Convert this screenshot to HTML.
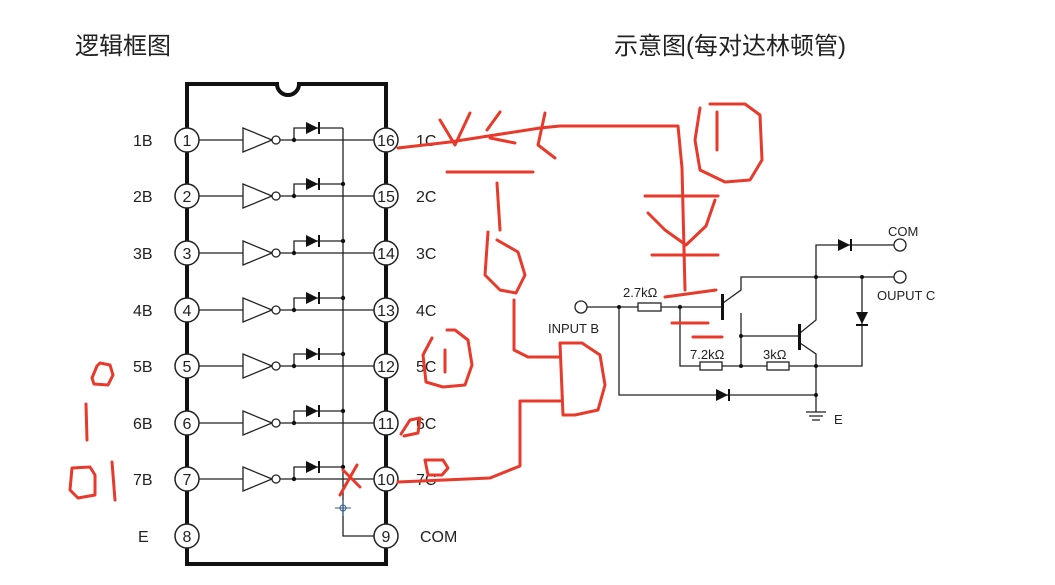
<!DOCTYPE html>
<html><head><meta charset="utf-8"><style>
html,body{margin:0;padding:0;background:#fff;}
svg{display:block;}
text{font-family:"Liberation Sans","Noto Sans CJK SC",sans-serif;fill:#222;}
</style></head><body>
<svg width="1055" height="585" viewBox="0 0 1055 585" xmlns="http://www.w3.org/2000/svg">
<text x="75" y="54" font-size="24">逻辑框图</text>
<text x="614" y="54" font-size="24">示意图(每对达林顿管)</text>
<!-- chip -->
<path d="M187 84 H277 A11 11 0 0 0 299 84 H386 V564 H187 Z" fill="none" stroke="#111" stroke-width="4"/>
<g id="rows" stroke="#222" stroke-width="1.3" fill="none">
</g>
<g stroke="#222" stroke-width="1.3" fill="none">
<!-- rows generated inline -->
<path d="M199 140H243M280 140H374M294 140V128H343M199 196H243M280 196H374M294 196V184H343M199 253H243M280 253H374M294 253V241H343M199 310H243M280 310H374M294 310V298H343M199 366H243M280 366H374M294 366V354H343M199 423H243M280 423H374M294 423V411H343M199 479H243M280 479H374M294 479V467H343"/>
<path d="M343 128V536H374"/>
<path d="M243 128L272 140L243 152ZM243 184L272 196L243 208ZM243 241L272 253L243 265ZM243 298L272 310L243 322ZM243 354L272 366L243 378ZM243 411L272 423L243 435ZM243 467L272 479L243 491Z"/>
</g>
<g fill="#fff" stroke="#222" stroke-width="1.3">
<circle cx="276" cy="140" r="4"/><circle cx="276" cy="196" r="4"/><circle cx="276" cy="253" r="4"/><circle cx="276" cy="310" r="4"/><circle cx="276" cy="366" r="4"/><circle cx="276" cy="423" r="4"/><circle cx="276" cy="479" r="4"/>
</g>
<g fill="#111">
<path d="M306 122L318 128L306 134ZM306 178L318 184L306 190ZM306 235L318 241L306 247ZM306 292L318 298L306 304ZM306 348L318 354L306 360ZM306 405L318 411L306 417ZM306 461L318 467L306 473Z"/>
<rect x="318" y="122" width="2" height="12"/><rect x="318" y="178" width="2" height="12"/><rect x="318" y="235" width="2" height="12"/><rect x="318" y="292" width="2" height="12"/><rect x="318" y="348" width="2" height="12"/><rect x="318" y="405" width="2" height="12"/><rect x="318" y="461" width="2" height="12"/>
<circle cx="294" cy="140" r="2.2"/><circle cx="294" cy="196" r="2.2"/><circle cx="294" cy="253" r="2.2"/><circle cx="294" cy="310" r="2.2"/><circle cx="294" cy="366" r="2.2"/><circle cx="294" cy="423" r="2.2"/><circle cx="294" cy="479" r="2.2"/>
<circle cx="343" cy="184" r="2.2"/><circle cx="343" cy="241" r="2.2"/><circle cx="343" cy="298" r="2.2"/><circle cx="343" cy="354" r="2.2"/><circle cx="343" cy="411" r="2.2"/><circle cx="343" cy="467" r="2.2"/>
</g>
<g stroke="#2a5a8a" stroke-width="1" fill="none"><circle cx="343" cy="508" r="3"/><path d="M335 508H351M343 500V516"/></g>
<g fill="#fff" stroke="#222" stroke-width="1.5">
<circle cx="187" cy="140" r="12"/><circle cx="187" cy="196" r="12"/><circle cx="187" cy="253" r="12"/><circle cx="187" cy="310" r="12"/><circle cx="187" cy="366" r="12"/><circle cx="187" cy="423" r="12"/><circle cx="187" cy="479" r="12"/><circle cx="187" cy="536" r="12"/>
<circle cx="386" cy="140" r="12"/><circle cx="386" cy="196" r="12"/><circle cx="386" cy="253" r="12"/><circle cx="386" cy="310" r="12"/><circle cx="386" cy="366" r="12"/><circle cx="386" cy="423" r="12"/><circle cx="386" cy="479" r="12"/><circle cx="386" cy="536" r="12"/>
</g>
<g font-size="16" text-anchor="middle">
<text x="187" y="146">1</text><text x="187" y="202">2</text><text x="187" y="259">3</text><text x="187" y="316">4</text><text x="187" y="372">5</text><text x="187" y="429">6</text><text x="187" y="485">7</text><text x="187" y="542">8</text>
<text x="386" y="146">16</text><text x="386" y="202">15</text><text x="386" y="259">14</text><text x="386" y="316">13</text><text x="386" y="372">12</text><text x="386" y="429">11</text><text x="386" y="485">10</text><text x="386" y="542">9</text>
</g>
<g font-size="16">
<text x="133" y="146">1B</text><text x="133" y="202">2B</text><text x="133" y="259">3B</text><text x="133" y="316">4B</text><text x="133" y="372">5B</text><text x="133" y="429">6B</text><text x="133" y="485">7B</text><text x="138" y="542">E</text>
<text x="416" y="146">1C</text><text x="416" y="202">2C</text><text x="416" y="259">3C</text><text x="416" y="316">4C</text><text x="416" y="372">5C</text><text x="416" y="429">6C</text><text x="416" y="485">7C</text><text x="420" y="542">COM</text>
</g>
<!-- right schematic -->
<g stroke="#222" stroke-width="1.3" fill="none">
<path d="M587 307H638M661 307H722M680 307V366H700M722 366H767M789 366H862V277"/>
<path d="M619 307V395H816"/>
<path d="M723 303L741 290V277H894M741 313L741 322V366M741 336H799M800 333L816 320V245H894M800 343L816 354V412"/>
<rect x="638" y="303" width="23" height="8"/><rect x="700" y="362" width="22" height="8"/><rect x="767" y="362" width="22" height="8"/>
<circle cx="581" cy="307" r="6"/><circle cx="900" cy="277" r="6"/><circle cx="900" cy="245" r="6"/>
<path d="M806 412H826M809 416H823M812 420H820"/>
</g>
<g fill="#111">
<rect x="721" y="294" width="3" height="26"/><rect x="798" y="324" width="3" height="26"/>
<path d="M838 239L850 245L838 251Z"/><rect x="850" y="239" width="2" height="12"/>
<path d="M856 312L868 312L862 324Z"/><rect x="856" y="324" width="12" height="2"/>
<path d="M716 389L728 395L716 401Z"/><rect x="728" y="389" width="2" height="12"/>
<circle cx="619" cy="307" r="2"/><circle cx="680" cy="307" r="2"/><circle cx="741" cy="336" r="2"/><circle cx="741" cy="366" r="2"/><circle cx="816" cy="366" r="2"/><circle cx="816" cy="395" r="2"/><circle cx="816" cy="277" r="2"/><circle cx="862" cy="277" r="2"/>
</g>
<g font-size="13">
<text x="623" y="297">2.7kΩ</text><text x="690" y="359">7.2kΩ</text><text x="763" y="359">3kΩ</text>
<text x="888" y="236">COM</text><text x="877" y="300">OUPUT C</text><text x="548" y="333">INPUT B</text><text x="834" y="424">E</text>
</g>
<!-- red annotations -->
<g stroke="#e8392b" stroke-width="3" fill="none" stroke-linecap="round" stroke-linejoin="round">
<path d="M398 148L450 142L540 128L560 126H678L682 168L685 290"/>
<path d="M440 120L455 145L470 113M487 130L500 112M490 138L515 143M545 113L538 145L555 158"/>
<path d="M447 172H533M497 183L500 230M488 232L485 275L500 290L516 293L525 275L518 252L497 240"/>
<path d="M514 300V350L528 357H560M560 343H582L600 355L605 385L598 410L575 415H563Z"/>
<path d="M560 401H520V466L490 478L398 482"/>
<path d="M700 108L695 140L700 170L725 182L750 180L762 160L760 115L745 104H710M717 112L717 150"/>
<path d="M645 196H718M648 213L665 230L686 245L706 226L715 200M652 255H718M665 297L716 290M672 323H708M693 337H722"/>
<path d="M432 338L423 355L426 382L443 387L465 385L472 365L468 340L455 330H447M445 350V372"/>
<path d="M401 434L410 420L420 418L418 433L404 436"/>
<path d="M425 460H443L448 468L442 475H428Z"/>
<path d="M97 366L92 378L94 384L108 385L113 375L110 365L100 363Z"/>
<path d="M86 404L87 440"/>
<path d="M72 468L70 490L78 498L95 495L95 475L90 467ZM112 462L115 500"/>
<path d="M340 495L357 465M343 470L360 487"/>
</g>
</svg>
</body></html>
